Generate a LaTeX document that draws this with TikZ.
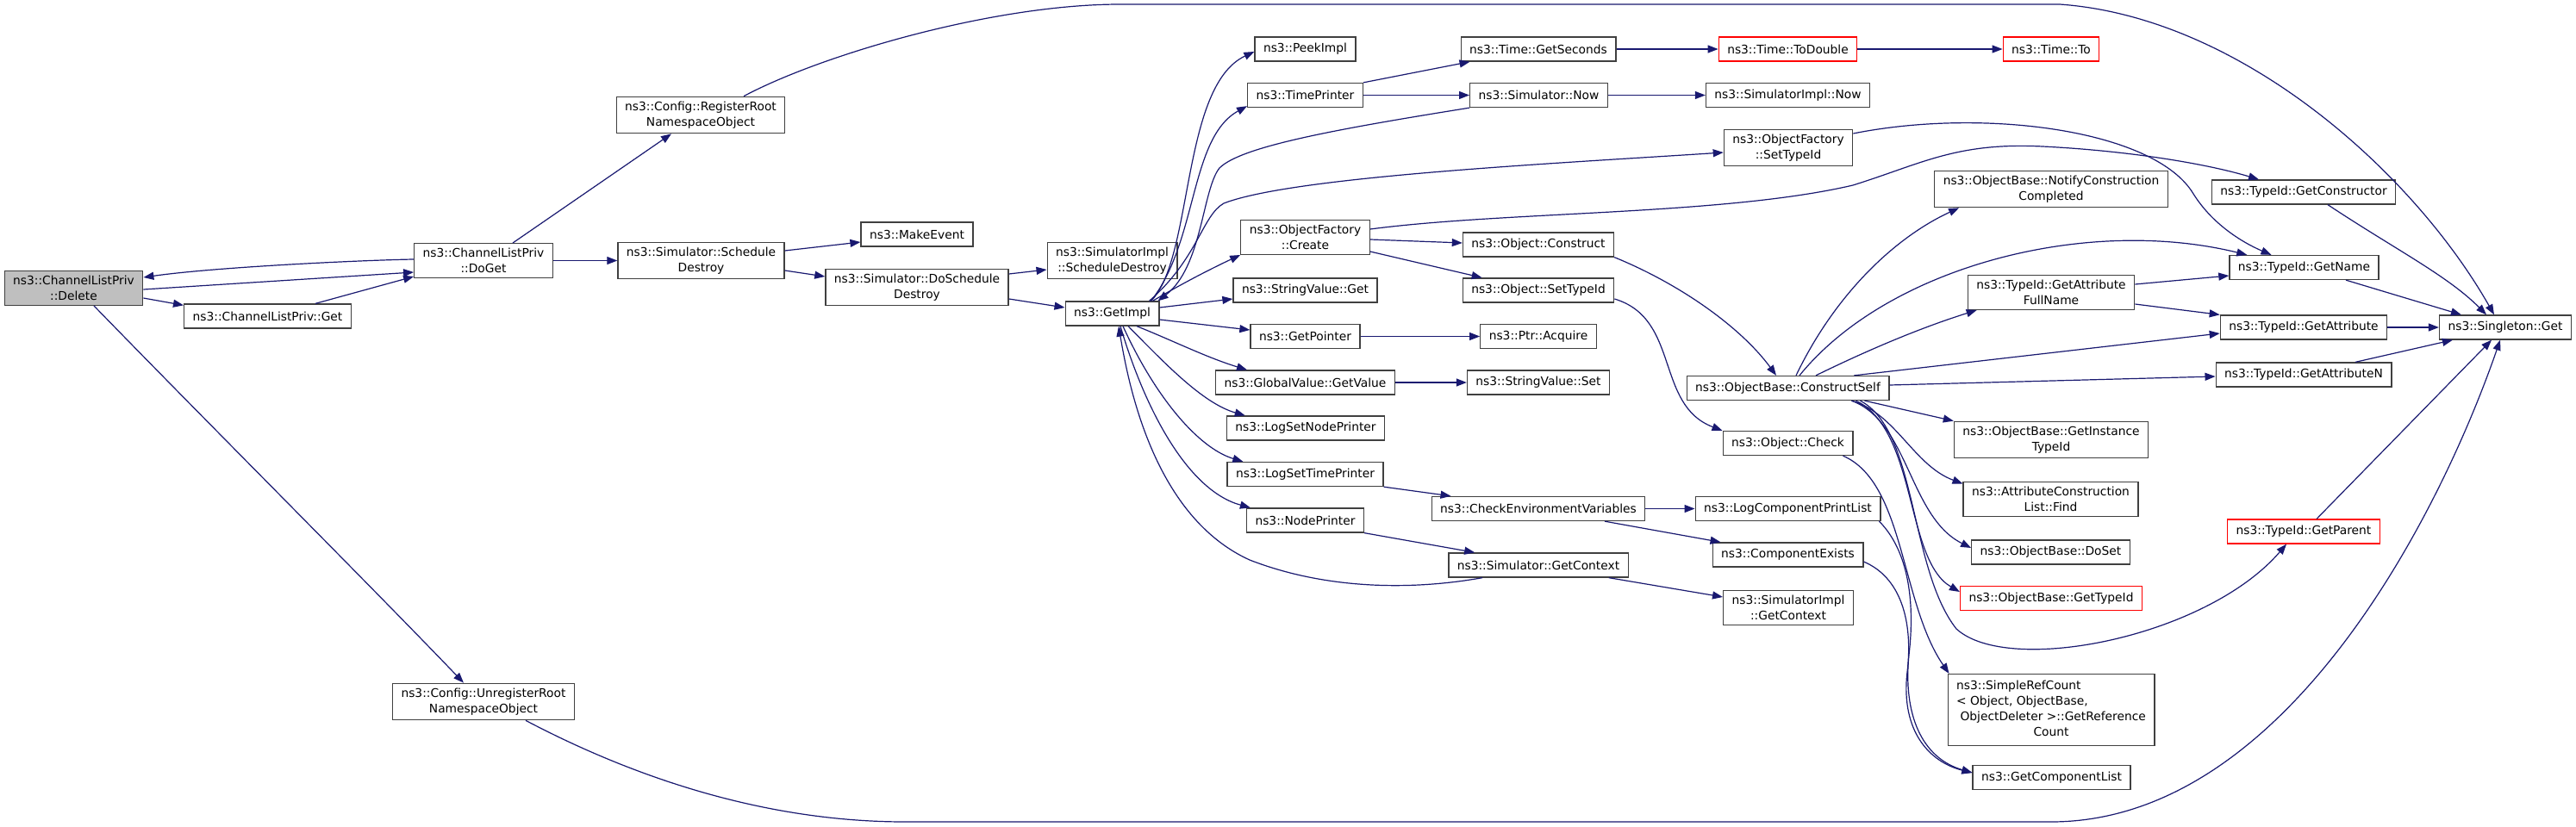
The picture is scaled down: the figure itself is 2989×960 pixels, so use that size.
\documentclass[tikz,border=0pt]{standalone}
\usepackage{fontspec}
\setmainfont{DejaVu Sans}
\usepackage{tikz}
\usetikzlibrary{arrows.meta}

\definecolor{edgeblue}{HTML}{191970}
\definecolor{boxgrey}{HTML}{404040}
\definecolor{curgrey}{HTML}{BFBFBF}

\begin{document}
\begin{tikzpicture}[
  x=1pt, y=-1pt,
  box/.style={draw=boxgrey, line width=1.3pt, fill=white, minimum height=28pt,
    inner xsep=10pt, inner ysep=5.5pt, align=center,
    font=\fontsize{13.8}{18}\selectfont},
  cut/.style={box, draw=red},
  cur/.style={box, fill=curgrey},
  arr/.style={-{Triangle[length=12pt,width=9pt]}, line width=1.2pt, draw=edgeblue}
]
  \fill[white] (0,0) rectangle (2989,960);
  \useasboundingbox (0,0) rectangle (2989,960);

  % left part
  \node[cur] (delete) at (85.5,334.5) {ns3::ChannelListPriv\\::Delete};
  \node[box] (clget) at (310.5,367) {ns3::ChannelListPriv::Get};
  \node[box] (doget) at (561,302.5) {ns3::ChannelListPriv\\::DoGet};
  \node[box] (regroot) at (813,133.5) {ns3::Config::RegisterRoot\\NamespaceObject};
  \node[box] (unregroot) at (561,814.5) {ns3::Config::UnregisterRoot\\NamespaceObject};
  \node[box] (schdestroy) at (813.5,302.5) {ns3::Simulator::Schedule\\Destroy};
  \node[box] (makeevent) at (1064,272) {ns3::MakeEvent};
  \node[box] (doschdestroy) at (1064,333.5) {ns3::Simulator::DoSchedule\\Destroy};
  \node[box] (implschdestroy) at (1290.5,302.5) {ns3::SimulatorImpl\\::ScheduleDestroy};
  \node[box] (getimpl) at (1290.5,364) {ns3::GetImpl};

  % callees of GetImpl
  \node[box] (peekimpl) at (1514.5,57) {ns3::PeekImpl};
  \node[box] (timeprinter) at (1514.5,110.5) {ns3::TimePrinter};
  \node[box] (ofcreate) at (1514.5,275.5) {ns3::ObjectFactory\\::Create};
  \node[box] (svget) at (1514.5,337) {ns3::StringValue::Get};
  \node[box] (getpointer) at (1514.5,390.5) {ns3::GetPointer};
  \node[box] (gvgetvalue) at (1514.5,444) {ns3::GlobalValue::GetValue};
  \node[box] (lognodeprinter) at (1515,497) {ns3::LogSetNodePrinter};
  \node[box] (logtimeprinter) at (1514.5,550.5) {ns3::LogSetTimePrinter};
  \node[box] (nodeprinter) at (1514.5,604) {ns3::NodePrinter};

  \node[box] (getseconds) at (1785,57) {ns3::Time::GetSeconds};
  \node[box] (simnow) at (1785.5,110.5) {ns3::Simulator::Now};
  \node[box] (objconstruct) at (1785,284) {ns3::Object::Construct};
  \node[box] (objsettypeid) at (1785,337) {ns3::Object::SetTypeId};
  \node[box] (ptracquire) at (1785,390.5) {ns3::Ptr::Acquire};
  \node[box] (svset) at (1785,444) {ns3::StringValue::Set};
  \node[box] (checkenv) at (1785,590.5) {ns3::CheckEnvironmentVariables};
  \node[box] (simgetcontext) at (1785,656) {ns3::Simulator::GetContext};

  \node[cut] (todouble) at (2074.5,57) {ns3::Time::ToDouble};
  \node[box] (implnow) at (2074.5,110.5) {ns3::SimulatorImpl::Now};
  \node[box] (ofsettypeid) at (2075,171.5) {ns3::ObjectFactory\\::SetTypeId};
  \node[box] (constructself) at (2074.5,450.5) {ns3::ObjectBase::ConstructSelf};
  \node[box] (objcheck) at (2074.5,514.5) {ns3::Object::Check};
  \node[box] (logprintlist) at (2074.5,590.5) {ns3::LogComponentPrintList};
  \node[box] (compexists) at (2074.5,644) {ns3::ComponentExists};
  \node[box] (implgetcontext) at (2075,705.5) {ns3::SimulatorImpl\\::GetContext};

  \node[cut] (timeto) at (2380,57) {ns3::Time::To};
  \node[box] (notify) at (2380,219.5) {ns3::ObjectBase::NotifyConstruction\\Completed};
  \node[box] (attrfullname) at (2380,339.5) {ns3::TypeId::GetAttribute\\FullName};
  \node[box] (instancetypeid) at (2380,510.5) {ns3::ObjectBase::GetInstance\\TypeId};
  \node[box] (aclfind) at (2379.5,579.5) {ns3::AttributeConstruction\\List::Find};
  \node[box] (doset) at (2379.5,641) {ns3::ObjectBase::DoSet};
  \node[cut] (obgettypeid) at (2380,694.5) {ns3::ObjectBase::GetTypeId};
  \node[box] (simplerefcount) at (2380,824) {\begin{tabular}{@{}l@{}}ns3::SimpleRefCount\\
    <~Object, ObjectBase,\\ \ ObjectDeleter >::GetReference\\
    \multicolumn{1}{@{}c@{}}{Count}\end{tabular}};
  \node[box] (getcomplist) at (2380.5,902.5) {ns3::GetComponentList};

  \node[box] (getconstructor) at (2673,223) {ns3::TypeId::GetConstructor};
  \node[box] (getname) at (2673.5,310.5) {ns3::TypeId::GetName};
  \node[box] (getattribute) at (2673,380) {ns3::TypeId::GetAttribute};
  \node[box] (getattributen) at (2673,435) {ns3::TypeId::GetAttributeN};
  \node[cut] (getparent) at (2673,617) {ns3::TypeId::GetParent};
  \node[box] (singleton) at (2907,380) {ns3::Singleton::Get};

  % calls from the left part
  \draw[arr] ([yshift=-1.5pt]delete.east) -- ([yshift=-13.5pt]doget.west);
  \draw[arr] ([yshift=1.5pt]doget.west) .. controls (420,302) and (250,310) .. ([yshift=12.5pt]delete.east);
  \draw[arr] ([yshift=-11.5pt]delete.east) -- ([yshift=-2pt]clget.north west);
  \draw[arr] ([xshift=55.5pt]clget.north) -- ([yshift=2pt]doget.south west);
  \draw[arr] ([xshift=23.5pt]delete.south) .. controls (250,500) and (430,680) .. ([xshift=-23pt]unregroot.north);
  \draw[arr] ([xshift=34pt]doget.north) -- ([xshift=-34pt]regroot.south);
  \draw[arr] (doget.east) -- (schdestroy.west);
  \draw[arr] ([xshift=50pt]regroot.north) .. controls (950,65) and (1150,5) .. (1300,5)
    -- (2390,5) .. controls (2600,20) and (2800,200) .. ([xshift=-13pt]singleton.north);
  \draw[arr] ([xshift=49pt]unregroot.south) .. controls (750,910) and (900,954) .. (1050,954)
    -- (2380,954) .. controls (2650,954) and (2830,600) .. ([xshift=-6pt]singleton.south);
  \draw[arr] ([yshift=11.5pt]schdestroy.east) -- ([yshift=-9pt]makeevent.west);
  \draw[arr] ([yshift=-11.5pt]schdestroy.east) -- ([yshift=12.5pt]doschdestroy.west);
  \draw[arr] ([yshift=15.5pt]doschdestroy.east) -- ([yshift=-10.5pt]implschdestroy.west);
  \draw[arr] ([yshift=-13.5pt]doschdestroy.east) -- ([yshift=7pt]getimpl.west);

  % calls of GetImpl
  \draw[arr] ([xshift=-10pt]getimpl.north east) .. controls (1385,300) and (1370,100) .. ([yshift=-3pt]peekimpl.west);
  \draw[arr] ([xshift=-10pt]getimpl.north east) .. controls (1390,280) and (1380,160) .. ([yshift=2pt]timeprinter.south west);
  \draw[arr] (simnow.south west) .. controls (1550,150) and (1440,170) .. (1415,195)
    .. controls (1395,220) and (1395,310) .. ([xshift=-2pt]getimpl.north east);
  \draw[arr] ([xshift=-12pt]getimpl.north east) .. controls (1390,300) and (1395,250) .. (1420,236)
    .. controls (1500,205) and (1800,190) .. ([yshift=-5.5pt]ofsettypeid.west);
  \draw[arr] ([xshift=-8pt]getimpl.north east) .. controls (1370,330) and (1405,312) .. (ofcreate.south west);
  \draw[arr] ([yshift=7pt]getimpl.east) -- ([yshift=-10pt]svget.west);
  \draw[arr] ([yshift=-7pt]getimpl.east) -- ([yshift=7.5pt]getpointer.west);
  \draw[arr] ([xshift=28.5pt]getimpl.south) .. controls (1360,395) and (1400,415) .. ([xshift=37pt]gvgetvalue.north west);
  \draw[arr] ([xshift=18.5pt]getimpl.south) .. controls (1350,420) and (1395,468) .. ([xshift=22pt]lognodeprinter.north west);
  \draw[arr] ([xshift=12.5pt]getimpl.south) .. controls (1340,460) and (1390,520) .. ([xshift=19pt]logtimeprinter.north west);
  \draw[arr] ([xshift=9.5pt]getimpl.south) .. controls (1330,480) and (1380,570) .. ([xshift=5pt]nodeprinter.north west);
  \draw[arr] ([xshift=-65pt]simgetcontext.south) .. controls (1640,685) and (1540,685) .. (1450,650)
    .. controls (1340,600) and (1310,450) .. ([xshift=7.5pt]getimpl.south);

  % middle columns
  \draw[arr] (timeprinter.north east) -- ([xshift=11pt]getseconds.south west);
  \draw[arr] (timeprinter.east) -- (simnow.west);
  \draw[arr] (getseconds.east) -- (todouble.west);
  \draw[arr] (todouble.east) -- (timeto.west);
  \draw[arr] (simnow.east) -- (implnow.west);
  \draw[arr] ([yshift=16.5pt]ofsettypeid.east) .. controls (2300,125) and (2500,150) .. (2545,225)
    .. controls (2570,265) and (2610,285) .. ([xshift=-38pt]getname.north);
  \draw[arr] ([yshift=9.5pt]ofcreate.east) .. controls (1750,245) and (2000,250) .. (2150,215)
    .. controls (2230,190) and (2270,165) .. (2370,170)
    .. controls (2470,175) and (2560,190) .. ([xshift=-52pt]getconstructor.north);
  \draw[arr] ([yshift=-2.5pt]ofcreate.east) -- ([yshift=2pt]objconstruct.west);
  \draw[arr] ([yshift=4pt]ofcreate.south east) -- ([xshift=23pt]objsettypeid.north west);
  \draw[arr] (objconstruct.south east) .. controls (1950,330) and (2020,380) .. ([xshift=-13.5pt]constructself.north);
  \draw[arr] ([yshift=-10pt]objsettypeid.east) .. controls (1950,370) and (1920,470) .. (objcheck.north west);
  \draw[arr] (getpointer.east) -- (ptracquire.west);
  \draw[arr] (gvgetvalue.east) -- (svset.west);
  \draw[arr] (logtimeprinter.south east) -- ([xshift=23pt]checkenv.north west);
  \draw[arr] (nodeprinter.south east) -- ([xshift=31pt]simgetcontext.north west);
  \draw[arr] (checkenv.east) -- (logprintlist.west);
  \draw[arr] ([xshift=77pt]checkenv.south) -- ([xshift=10pt]compexists.north west);
  \draw[arr] ([xshift=-23pt]simgetcontext.south east) -- ([yshift=12.5pt]implgetcontext.west);
  \draw[arr] ([xshift=-2pt]logprintlist.south east) .. controls (2215,640) and (2222,700) .. (2215,760)
    .. controls (2208,830) and (2230,880) .. ([yshift=5.5pt]getcomplist.west);
  \draw[arr] ([yshift=-8pt]compexists.east) .. controls (2205,670) and (2220,720) .. (2213,780)
    .. controls (2205,850) and (2240,885) .. ([yshift=5.5pt]getcomplist.west);
  \draw[arr] ([xshift=-12pt]objcheck.south east) .. controls (2210,560) and (2205,700) .. ([xshift=2pt]simplerefcount.north west);

  % calls of ConstructSelf
  \draw[arr] ([xshift=9.5pt]constructself.north) .. controls (2130,340) and (2200,275) .. ([xshift=29pt]notify.south west);
  \draw[arr] ([xshift=13.5pt]constructself.north) .. controls (2190,310) and (2420,250) .. ([xshift=21pt]getname.north west);
  \draw[arr] ([xshift=32.5pt]constructself.north) .. controls (2170,405) and (2230,380) .. ([xshift=11pt]attrfullname.south west);
  \draw[arr] ([xshift=-41pt]constructself.north east) -- ([yshift=-7pt]getattribute.west);
  \draw[arr] ([yshift=3.5pt]constructself.east) -- ([yshift=-2pt]getattributen.west);
  \draw[arr] ([xshift=-29pt]constructself.south east) -- (instancetypeid.north west);
  \draw[arr] ([xshift=-44pt]constructself.south east) .. controls (2200,480) and (2220,540) .. ([yshift=18pt]aclfind.west);
  \draw[arr] ([xshift=-44pt]constructself.south east) .. controls (2215,490) and (2215,600) .. ([yshift=5pt]doset.west);
  \draw[arr] ([xshift=-39pt]constructself.south east) .. controls (2225,500) and (2210,650) .. ([yshift=7.5pt]obgettypeid.west);
  \draw[arr] ([xshift=-34pt]constructself.south east) .. controls (2225,500) and (2215,660) .. (2270,730)
    .. controls (2330,785) and (2560,740) .. ([xshift=-20pt]getparent.south);

  % TypeId and Singleton
  \draw[arr] ([yshift=9.5pt]attrfullname.east) -- ([yshift=-9.5pt]getname.west);
  \draw[arr] ([yshift=-13.5pt]attrfullname.east) -- (getattribute.north west);
  \draw[arr] ([xshift=48.5pt]getname.south) -- ([xshift=26pt]singleton.north west);
  \draw[arr] (getattribute.east) -- (singleton.west);
  \draw[arr] ([xshift=60pt]getattributen.north) -- ([xshift=16pt]singleton.south west);
  \draw[arr] ([xshift=28pt]getconstructor.south) .. controls (2780,290) and (2840,320) .. ([xshift=-22pt]singleton.north);
  \draw[arr] ([xshift=15pt]getparent.north) -- ([xshift=-16pt]singleton.south);
\end{tikzpicture}
\end{document}
